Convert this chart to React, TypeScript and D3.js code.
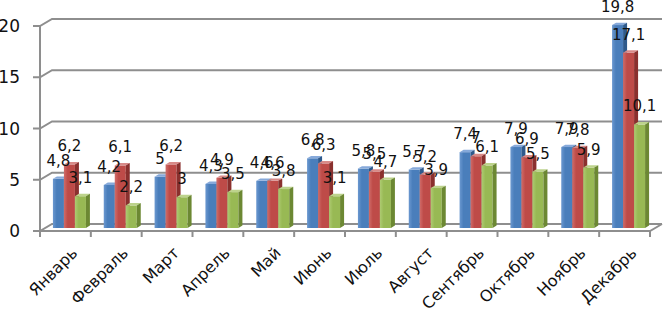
import React from "react";
import * as d3 from "d3";

const categories = ["Январь", "Февраль", "Март", "Апрель", "Май", "Июнь", "Июль", "Август", "Сентябрь", "Октябрь", "Ноябрь", "Декабрь"];
const series1 = [4.8, 4.2, 5, 4.3, 4.6, 6.8, 5.8, 5.7, 7.4, 7.9, 7.9, 19.8];
const series2 = [6.2, 6.1, 6.2, 4.9, 4.6, 6.3, 5.5, 5.2, 7, 6.9, 7.8, 17.1];
const series3 = [3.1, 2.2, 3, 3.5, 3.8, 3.1, 4.7, 3.9, 6.1, 5.5, 5.9, 10.1];
const yTicks = [0, 5, 10, 15, 20];

const W = 663;
const H = 314;

const palettes = [
  { front: "#4A7EBB", light: "#6B98D0", top: "#86A9DA", side: "#2E5A8C" },
  { front: "#BE4B48", light: "#D06C69", top: "#D88A88", side: "#8A302E" },
  { front: "#98B954", light: "#AECB72", top: "#BDD38C", side: "#6C8833" },
];

export default function App() {
  const series = [series1, series2, series3];
  const FX0 = 40;
  const FX1 = 650;
  const DX = 12;
  const DY = -7;
  const y = d3.scaleLinear().domain([0, 20]).range([231, 26]);
  const x = d3.scaleBand<string>().domain(categories).range([FX0, FX1]).paddingInner(0).paddingOuter(0);
  const barW = 11;
  const bdx = 4;
  const bdy = -3;
  const sdx = 4;
  const sdy = -2.4;
  const fmt = (v: number) => String(v).replace(".", ",");
  const grid = "#8E8E8E";

  const bars: JSX.Element[] = [];
  const labels: JSX.Element[] = [];
  categories.forEach((c, i) => {
    const center = (x(c) as number) + x.bandwidth() / 2 + bdx;
    const gx0 = center - (barW * 3) / 2;
    series.forEach((s, k) => {
      const v = s[i];
      const p = palettes[k];
      const x0 = gx0 + k * barW;
      const x1 = x0 + barW;
      const yb = y(0) + bdy;
      const yt = y(v) + bdy;
      bars.push(
        <g key={`b${i}-${k}`}>
          <rect x={x0} y={yt} width={barW} height={yb - yt} fill={`url(#grad${k})`} />
          <polygon points={`${x0},${yt} ${x1},${yt} ${x1 + sdx},${yt + sdy} ${x0 + sdx},${yt + sdy}`} fill={p.top} />
          <polygon points={`${x1},${yt} ${x1 + sdx},${yt + sdy} ${x1 + sdx},${yb + sdy} ${x1},${yb}`} fill={p.side} />
        </g>
      );
      labels.push(
        <text key={`l${i}-${k}`} x={x0 + barW / 2} y={yt - 13} textAnchor="middle" fontSize={15} fontFamily="DejaVu Sans, sans-serif" fill="#111">
          {fmt(v)}
        </text>
      );
    });
  });

  return (
    <svg width={W} height={H} style={{ position: "absolute", left: 0, top: 0, background: "#fff" }}>
      <defs>
        {palettes.map((p, k) => (
          <linearGradient key={k} id={`grad${k}`} x1="0" x2="1" y1="0" y2="0">
            <stop offset="0" stopColor={p.light} />
            <stop offset="0.35" stopColor={p.front} />
            <stop offset="1" stopColor={p.front} />
          </linearGradient>
        ))}
      </defs>
      {yTicks.map((t) => (
        <g key={`g${t}`} stroke={grid} strokeWidth={2} fill="none">
          <polyline points={`${FX0 - 7},${y(t)} ${FX0},${y(t)} ${FX0 + DX},${y(t) + DY} ${FX1 + DX},${y(t) + DY}`} />
        </g>
      ))}
      <line x1={FX0} x2={FX0} y1={y(20)} y2={y(0)} stroke={grid} strokeWidth={2} />
      <polyline points={`${FX0},${y(0)} ${FX1},${y(0)} ${FX1 + DX},${y(0) + DY}`} stroke={grid} strokeWidth={2} fill="none" />
      {d3.range(categories.length + 1).map((i) => {
        const xx = FX0 + i * x.bandwidth();
        return <line key={`t${i}`} x1={xx} x2={xx} y1={y(0)} y2={y(0) + 6} stroke={grid} strokeWidth={2} />;
      })}
      {bars}
      {yTicks.map((t) => (
        <text key={`yl${t}`} x={20} y={y(t) + 6} textAnchor="end" fontSize={17} fontFamily="DejaVu Sans, sans-serif" fill="#111">
          {t}
        </text>
      ))}
      {categories.map((c) => {
        const cx = (x(c) as number) + x.bandwidth() / 2 + 13;
        const cy = 254;
        return (
          <text key={`c${c}`} x={cx} y={cy} textAnchor="end" fontSize={16} fontFamily="DejaVu Sans, sans-serif" fill="#111" transform={`rotate(-45 ${cx} ${cy})`}>
            {c}
          </text>
        );
      })}
      {labels}
    </svg>
  );
}
